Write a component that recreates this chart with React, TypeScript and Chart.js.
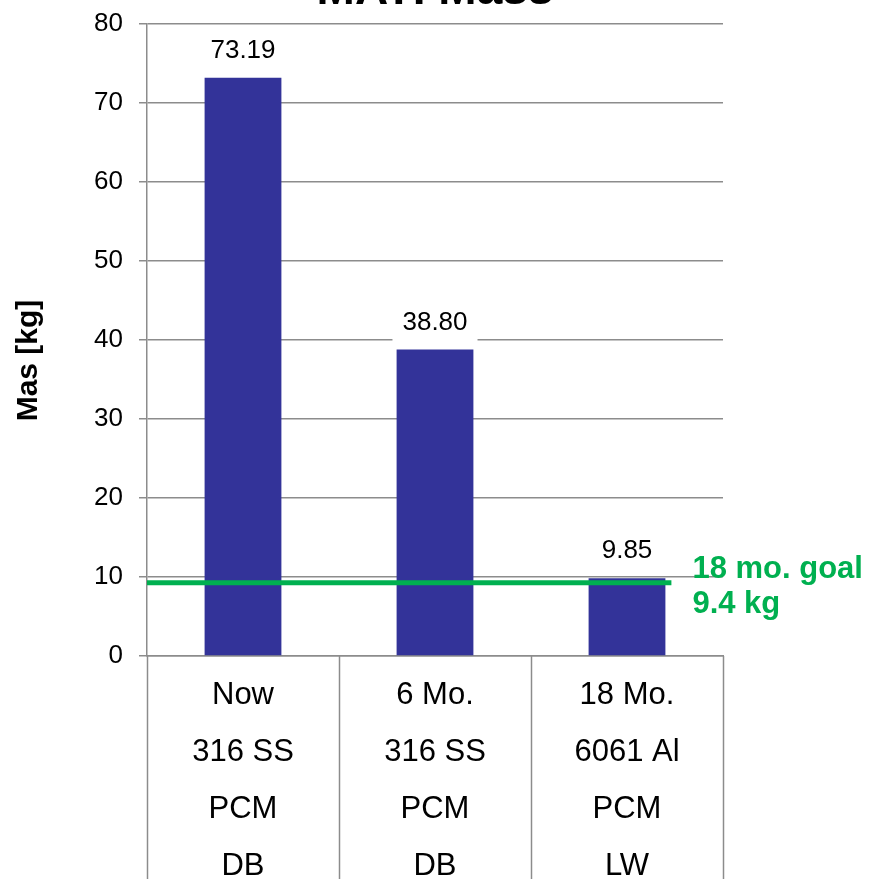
import React, { useEffect, useRef } from "react";
import { Chart, registerables } from "chart.js";

Chart.register(...registerables);

const chartTitle = "MATI Mass";
const categories: string[][] = [
  ["Now", "316 SS", "PCM", "DB"],
  ["6 Mo.", "316 SS", "PCM", "DB"],
  ["18 Mo.", "6061 Al", "PCM", "LW"],
];
const massValues = [73.19, 38.8, 9.85];
const yTicksMin = 0;
const yTicksMax = 80;
const yTickStep = 10;
const goalValue = 9.4;
const goalLabel = ["18 mo. goal", "9.4 kg"];
const yAxisTitle = "Mas [kg]";

const FONT = "'Liberation Sans', Arial, Helvetica, sans-serif";
const BAR_COLOR = "#333399";
const GRID_COLOR = "#8c8c8c";
const GOAL_COLOR = "#00b050";

const overlayPlugin = {
  id: "overlay",
  afterDatasetsDraw(chart: any) {
    const { ctx, chartArea, scales } = chart;
    const xs = scales.x;
    const ys = scales.y;
    const meta = chart.getDatasetMeta(0);
    ctx.save();

    // category table separators
    const step = xs.getPixelForValue(1) - xs.getPixelForValue(0);
    ctx.strokeStyle = GRID_COLOR;
    ctx.lineWidth = 1.5;
    for (let i = 0; i <= categories.length; i++) {
      const xp = xs.getPixelForValue(0) - step / 2 + i * step;
      ctx.beginPath();
      ctx.moveTo(Math.round(xp) + 0.5, chartArea.bottom);
      ctx.lineTo(Math.round(xp) + 0.5, chart.height);
      ctx.stroke();
    }

    // goal line
    const gy = ys.getPixelForValue(goalValue);
    const lastBar = meta.data[meta.data.length - 1];
    const lineEnd = lastBar.x + lastBar.width / 2 + 6;
    ctx.strokeStyle = GOAL_COLOR;
    ctx.lineWidth = 5;
    ctx.beginPath();
    ctx.moveTo(chartArea.left, gy + 1);
    ctx.lineTo(lineEnd, gy + 1);
    ctx.stroke();

    // goal label
    ctx.fillStyle = GOAL_COLOR;
    ctx.font = `bold 31px ${FONT}`;
    ctx.textAlign = "left";
    ctx.textBaseline = "alphabetic";
    ctx.fillText(goalLabel[0], lineEnd + 21, gy - 4);
    ctx.fillText(goalLabel[1], lineEnd + 21, gy + 31);

    // data labels
    ctx.font = `26px ${FONT}`;
    ctx.textAlign = "center";
    ctx.textBaseline = "middle";
    meta.data.forEach((bar: any, i: number) => {
      const txt = massValues[i].toFixed(2);
      const cy = bar.y - 27;
      const w = ctx.measureText(txt).width + 20;
      ctx.fillStyle = "#ffffff";
      ctx.fillRect(bar.x - w / 2, cy - 20, w, 40);
      ctx.fillStyle = "#000000";
      ctx.fillText(txt, bar.x, cy);
    });

    // y axis title
    ctx.save();
    ctx.translate(29, (chartArea.top + chart.height) / 2 - 91);
    ctx.rotate(-Math.PI / 2);
    ctx.font = `bold 30px ${FONT}`;
    ctx.textAlign = "center";
    ctx.textBaseline = "middle";
    ctx.fillStyle = "#000000";
    ctx.fillText(yAxisTitle, 0, 0);
    ctx.restore();

    // title (cut off at top)
    ctx.font = `bold 46px ${FONT}`;
    ctx.textAlign = "center";
    ctx.textBaseline = "alphabetic";
    ctx.fillStyle = "#000000";
    ctx.fillText(chartTitle, (chartArea.left + chartArea.right) / 2, 4);

    ctx.restore();
  },
};

export default function App() {
  const canvasRef = useRef<HTMLCanvasElement | null>(null);

  useEffect(() => {
    document.body.style.margin = "0";
    const canvas = canvasRef.current;
    if (!canvas) return;
    const chart = new Chart(canvas, {
      type: "bar",
      data: {
        labels: categories,
        datasets: [
          {
            data: massValues,
            backgroundColor: BAR_COLOR,
            borderWidth: 0,
            barPercentage: 0.4,
            categoryPercentage: 1,
          },
        ],
      },
      options: {
        animation: false,
        responsive: false,
        devicePixelRatio: 1,
        layout: { padding: { top: 24, right: 149, left: 0, bottom: 0 } },
        plugins: {
          legend: { display: false },
          tooltip: { enabled: false },
          title: { display: false },
        },
        scales: {
          x: {
            afterFit: (scale: any) => {
              scale.height = 223;
              scale.paddingLeft = 0;
              scale.paddingRight = 0;
            },
            grid: { display: false, drawTicks: false },
            border: { display: true, color: GRID_COLOR, width: 1.5 },
            ticks: {
              color: "#000000",
              font: { family: FONT, size: 31, lineHeight: 1.84 },
              padding: 11,
              maxRotation: 0,
              autoSkip: false,
            },
          },
          y: {
            min: yTicksMin,
            max: yTicksMax,
            afterFit: (scale: any) => {
              scale.width = 147;
              scale.paddingTop = 0;
              scale.paddingBottom = 0;
            },
            grid: {
              color: GRID_COLOR,
              lineWidth: 1.5,
              drawTicks: true,
              tickLength: 8,
              tickColor: GRID_COLOR,
            },
            border: { display: true, color: GRID_COLOR, width: 1.5 },
            ticks: {
              stepSize: yTickStep,
              color: "#000000",
              font: { family: FONT, size: 26 },
              padding: 16,
            },
            title: { display: false },
          },
        },
      },
      plugins: [overlayPlugin],
    });
    return () => chart.destroy();
  }, []);

  return (
    <div style={{ position: "absolute", left: 0, top: 0, width: 872, height: 879 }}>
      <canvas ref={canvasRef} width={872} height={879} style={{ display: "block" }} />
    </div>
  );
}
